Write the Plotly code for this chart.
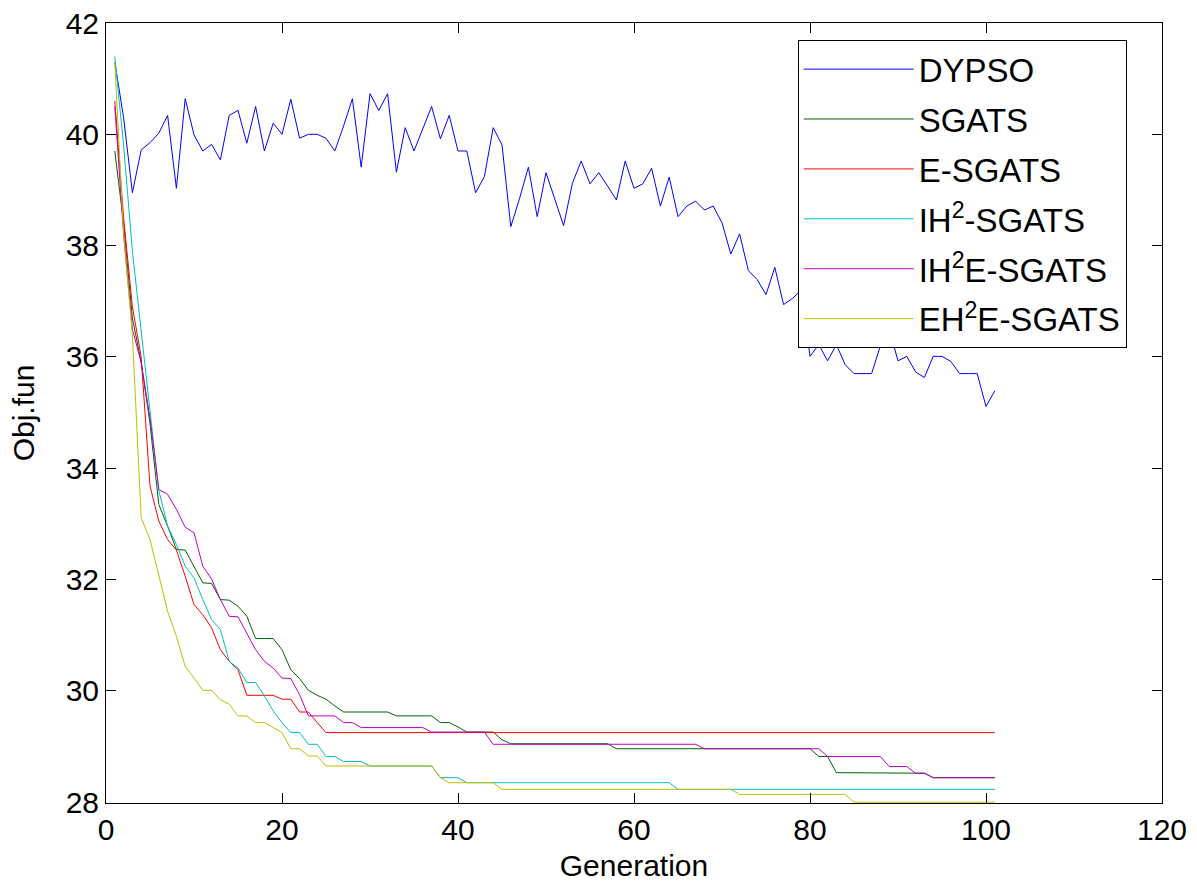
import plotly.graph_objects as go

generation = list(range(1, 102))

dypso = [
    41.3, 40.3, 38.95, 39.72, 39.85, 40.02, 40.34, 39.03, 40.64, 39.99,
    39.70, 39.82, 39.54, 40.34, 40.43, 39.84, 40.50, 39.70, 40.20, 40.00,
    40.63, 39.93, 40.00, 40.00, 39.93, 39.70, 40.15, 40.64, 39.41, 40.73,
    40.43, 40.73, 39.32, 40.12, 39.70, 40.10, 40.50, 39.92, 40.34, 39.70,
    39.70, 38.95, 39.24, 40.12, 39.81, 38.34, 38.85, 39.41, 38.52, 39.31,
    38.82, 38.36, 39.12, 39.52, 39.11, 39.31, 39.07, 38.82, 39.52, 39.03,
    39.11, 39.39, 38.71, 39.23, 38.52, 38.71, 38.80, 38.64, 38.71, 38.41,
    37.85, 38.21, 37.55, 37.39, 37.12, 37.61, 36.94, 37.05, 37.20, 36.01,
    36.22, 35.93, 36.22, 35.86, 35.70, 35.70, 35.70, 36.20, 36.50, 35.93,
    36.01, 35.73, 35.63, 36.01, 36.01, 35.92, 35.70, 35.70, 35.70, 35.11,
    35.39,
]

sgats = [
    39.7, 38.4, 36.7, 35.9, 34.8, 33.35, 32.96, 32.54, 32.53, 32.24,
    31.94, 31.93, 31.64, 31.63, 31.52, 31.34, 30.94, 30.94, 30.94, 30.74,
    30.38, 30.22, 30.01, 29.92, 29.85, 29.73, 29.62, 29.62, 29.62, 29.62,
    29.62, 29.62, 29.55, 29.55, 29.55, 29.55, 29.55, 29.43, 29.43, 29.35,
    29.26, 29.26, 29.26, 29.26, 29.12, 29.05, 29.05, 29.05, 29.05, 29.05,
    29.05, 29.05, 29.05, 29.05, 29.05, 29.05, 29.05, 28.96, 28.96, 28.96,
    28.96, 28.96, 28.96, 28.96, 28.96, 28.96, 28.96, 28.96, 28.96, 28.96,
    28.96, 28.96, 28.96, 28.96, 28.96, 28.96, 28.96, 28.96, 28.96, 28.96,
    28.82, 28.82, 28.53, 28.53, 28.53, 28.53, 28.53, 28.53, 28.53, 28.53,
    28.53, 28.53, 28.52, 28.44, 28.44, 28.44, 28.44, 28.44, 28.44, 28.44,
    28.44,
]

e_sgats = [
    40.6, 38.5, 36.9, 36.0, 33.68, 33.05, 32.72, 32.53, 32.06, 31.55,
    31.37, 31.13, 30.74, 30.53, 30.38, 29.92, 29.92, 29.92, 29.92, 29.85,
    29.85, 29.62, 29.62, 29.43, 29.25, 29.25, 29.25, 29.25, 29.25, 29.25,
    29.25, 29.25, 29.25, 29.25, 29.25, 29.25, 29.25, 29.25, 29.25, 29.25,
    29.25, 29.25, 29.25, 29.25, 29.25, 29.25, 29.25, 29.25, 29.25, 29.25,
    29.25, 29.25, 29.25, 29.25, 29.25, 29.25, 29.25, 29.25, 29.25, 29.25,
    29.25, 29.25, 29.25, 29.25, 29.25, 29.25, 29.25, 29.25, 29.25, 29.25,
    29.25, 29.25, 29.25, 29.25, 29.25, 29.25, 29.25, 29.25, 29.25, 29.25,
    29.25, 29.25, 29.25, 29.25, 29.25, 29.25, 29.25, 29.25, 29.25, 29.25,
    29.25, 29.25, 29.25, 29.25, 29.25, 29.25, 29.25, 29.25, 29.25, 29.25,
    29.25,
]

ih2_sgats = [
    41.4, 39.8, 37.9, 36.5, 35.0, 33.6, 32.96, 32.63, 32.24, 32.03,
    31.64, 31.28, 31.10, 30.53, 30.41, 30.15, 30.15, 29.91, 29.64, 29.43,
    29.25, 29.25, 29.04, 29.04, 28.82, 28.82, 28.73, 28.73, 28.73, 28.65,
    28.65, 28.65, 28.65, 28.65, 28.65, 28.65, 28.65, 28.44, 28.44, 28.44,
    28.35, 28.35, 28.35, 28.35, 28.35, 28.35, 28.35, 28.35, 28.35, 28.35,
    28.35, 28.35, 28.35, 28.35, 28.35, 28.35, 28.35, 28.35, 28.35, 28.35,
    28.35, 28.35, 28.35, 28.35, 28.23, 28.23, 28.23, 28.23, 28.23, 28.23,
    28.23, 28.23, 28.23, 28.23, 28.23, 28.23, 28.23, 28.23, 28.23, 28.23,
    28.23, 28.23, 28.23, 28.23, 28.23, 28.23, 28.23, 28.23, 28.23, 28.23,
    28.23, 28.23, 28.23, 28.23, 28.23, 28.23, 28.23, 28.23, 28.23, 28.23,
    28.23,
]

ih2e_sgats = [
    40.5, 38.2, 36.5, 35.9, 34.9, 33.62, 33.53, 33.26, 32.94, 32.84,
    32.24, 32.01, 31.64, 31.34, 31.33, 31.04, 30.74, 30.53, 30.41, 30.23,
    30.22, 29.93, 29.55, 29.55, 29.55, 29.55, 29.43, 29.43, 29.34, 29.34,
    29.34, 29.34, 29.34, 29.34, 29.34, 29.34, 29.26, 29.26, 29.26, 29.26,
    29.26, 29.26, 29.26, 29.04, 29.04, 29.04, 29.04, 29.04, 29.04, 29.04,
    29.04, 29.04, 29.04, 29.04, 29.04, 29.04, 29.04, 29.04, 29.04, 29.04,
    29.04, 29.04, 29.04, 29.04, 29.04, 29.04, 29.04, 28.96, 28.96, 28.96,
    28.96, 28.96, 28.96, 28.96, 28.96, 28.96, 28.96, 28.96, 28.96, 28.96,
    28.96, 28.82, 28.82, 28.82, 28.82, 28.82, 28.82, 28.82, 28.64, 28.64,
    28.64, 28.52, 28.52, 28.44, 28.44, 28.44, 28.44, 28.44, 28.44, 28.44,
    28.44,
]

eh2e_sgats = [
    41.3, 38.2, 36.4, 33.11, 32.72, 32.06, 31.43, 30.98, 30.44, 30.23,
    30.01, 30.01, 29.84, 29.76, 29.55, 29.55, 29.43, 29.43, 29.34, 29.25,
    28.96, 28.96, 28.83, 28.83, 28.65, 28.65, 28.65, 28.65, 28.65, 28.65,
    28.65, 28.65, 28.65, 28.65, 28.65, 28.65, 28.65, 28.44, 28.35, 28.35,
    28.35, 28.35, 28.35, 28.35, 28.23, 28.23, 28.23, 28.23, 28.23, 28.23,
    28.23, 28.23, 28.23, 28.23, 28.23, 28.23, 28.23, 28.23, 28.23, 28.23,
    28.23, 28.23, 28.23, 28.23, 28.23, 28.23, 28.23, 28.23, 28.23, 28.23,
    28.23, 28.14, 28.14, 28.14, 28.14, 28.14, 28.14, 28.14, 28.14, 28.14,
    28.14, 28.14, 28.14, 28.14, 28.00, 28.00, 28.00, 28.00, 28.00, 28.00,
    28.00, 28.00, 28.00, 28.00, 28.00, 28.00, 28.00, 28.00, 28.00, 28.00,
    28.00,
]

series_names = ["DYPSO", "SGATS", "E-SGATS", "IH<sup>2</sup>-SGATS",
                "IH<sup>2</sup>E-SGATS", "EH<sup>2</sup>E-SGATS"]
series_values = [dypso, sgats, e_sgats, ih2_sgats, ih2e_sgats, eh2e_sgats]
series_colors = ["rgb(0,0,255)", "rgb(0,100,0)", "rgb(255,0,0)",
                 "rgb(0,191,191)", "rgb(191,0,191)", "rgb(191,191,0)"]

x_ticks = [0, 20, 40, 60, 80, 100, 120]
y_ticks = [28, 30, 32, 34, 36, 38, 40, 42]

FONT = "Arial, Liberation Sans, sans-serif"

fig = go.Figure()
for i, (name, vals, col) in enumerate(zip(series_names, series_values, series_colors)):
    fig.add_trace(go.Scatter(x=generation, y=vals, mode="lines", name=name,
                             legendgroup=f"g{i}",
                             line=dict(color=col, width=1)))

axis_common = dict(showline=True, linecolor="black", linewidth=1, mirror="ticks",
                   ticks="inside", ticklen=10, tickcolor="black", tickwidth=1,
                   showgrid=False, zeroline=False, automargin=False,
                   tickfont=dict(family=FONT, size=30, color="black"))

fig.update_layout(
    width=1197, height=882,
    margin=dict(l=106, r=35, t=23, b=79, autoexpand=False),
    paper_bgcolor="white", plot_bgcolor="white",
    font=dict(family=FONT, color="black"),
    xaxis=dict(range=[0, 120], tickvals=x_ticks,
               title=dict(text="Generation", font=dict(family=FONT, size=30), standoff=10),
               **axis_common),
    yaxis=dict(range=[27.985, 42], tickvals=y_ticks,
               title=dict(text="Obj.fun", font=dict(family=FONT, size=30), standoff=22),
               **axis_common),
    legend=dict(x=0.655, y=0.978, xanchor="left", yanchor="top",
                bgcolor="white", bordercolor="black", borderwidth=1,
                font=dict(family=FONT, size=33, color="black"),
                itemwidth=110, tracegroupgap=4),
    showlegend=True,
)

fig.write_html(
    "out.html",
    config={"displayModeBar": False},
    post_script="document.body.style.margin='0';document.body.style.overflow='hidden';",
)
